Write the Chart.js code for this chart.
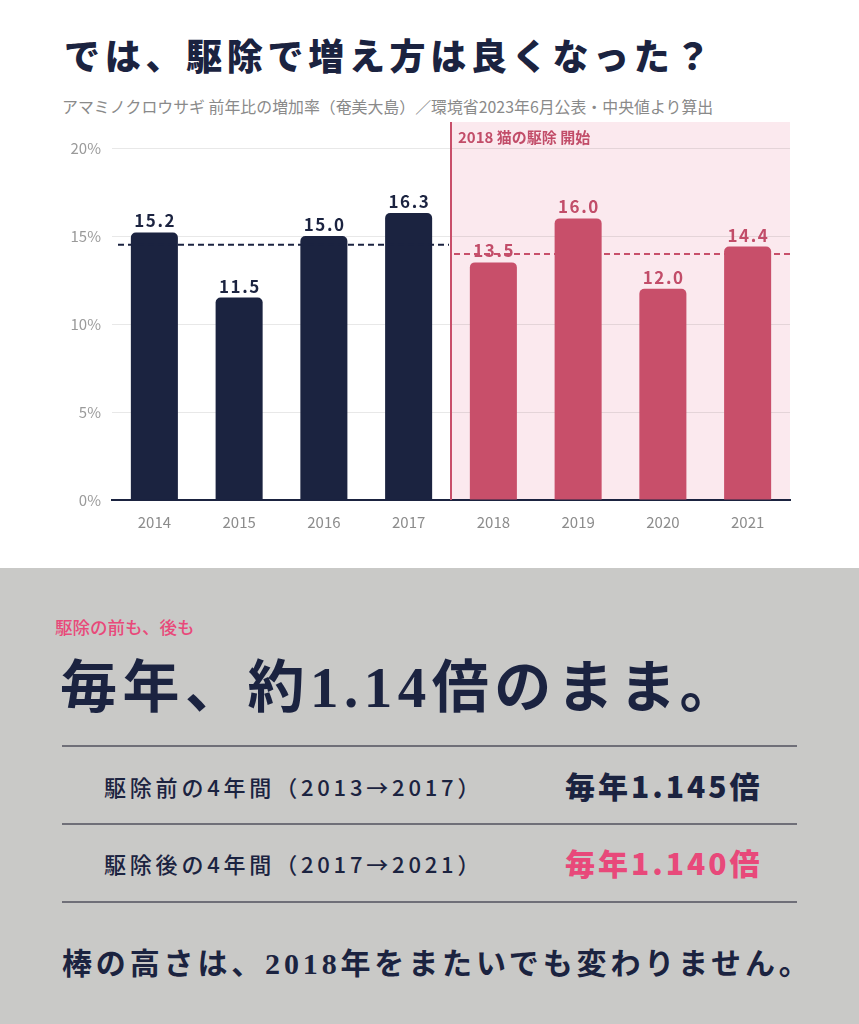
<!DOCTYPE html>
<html lang="ja">
<head>
<meta charset="utf-8">
<script src="https://cdn.jsdelivr.net/npm/chart.js@4.4.1/dist/chart.umd.min.js"></script>
<style>
  html, body { margin: 0; padding: 0; }
  body { width: 859px; height: 1024px; position: relative; overflow: hidden; background: #ffffff;
         font-family: "Noto Sans CJK JP", "Noto Sans", sans-serif; color: #1b2340; }
  .abs { position: absolute; white-space: nowrap; }
  #title { left: 64px; top: 30px; font-size: 36px; font-weight: 900; letter-spacing: 4.7px; line-height: 48px; }
  #subtitle { left: 62px; top: 96px; font-size: 15.9px; color: #8a8a8a; line-height: 22px; }
  #chartWrap { position: absolute; left: 0; top: 110px; width: 859px; height: 440px; }
  #gray { position: absolute; left: 0; top: 568px; width: 859px; height: 456px; background: #c9c9c7; }
  #kicker { left: 55px; top: 613px; font-size: 17.5px; font-weight: 500; color: #e8497a; line-height: 28px; }
  #big { left: 60px; top: 650px; font-size: 57px; font-weight: 700; line-height: 76px; letter-spacing: 5.5px;
         font-family: "Liberation Serif", "DejaVu Serif", "Noto Sans CJK JP", serif; }
  .rule { position: absolute; left: 62px; width: 735px; height: 2px; background: #6f6f78; }
  .rowlabel { left: 104px; font-size: 22px; font-weight: 500; letter-spacing: 3.8px; line-height: 30px; }
  .rowval { left: 565px; font-size: 30px; font-weight: 900; letter-spacing: 3px; line-height: 38px; }
  #closing { left: 62px; top: 943px; font-size: 30px; font-weight: 700; letter-spacing: 3.85px; line-height: 42px;
             font-family: "Liberation Serif", "DejaVu Serif", "Noto Sans CJK JP", serif; }
</style>
</head>
<body>
<div id="title" class="abs">では、駆除で増え方は良くなった？</div>
<div id="subtitle" class="abs">アマミノクロウサギ 前年比の増加率（奄美大島）／環境省2023年6月公表・中央値より算出</div>
<div id="chartWrap"><canvas id="chart" width="859" height="440"></canvas></div>

<div id="gray"></div>
<div id="kicker" class="abs">駆除の前も、後も</div>
<div id="big" class="abs">毎年、約1.14倍のまま。</div>
<div class="rule" style="top:745px"></div>
<div class="abs rowlabel" style="top:771px">駆除前の4年間（2013→2017）</div>
<div class="abs rowval" style="top:766px; color:#1b2340">毎年1.145倍</div>
<div class="rule" style="top:823px"></div>
<div class="abs rowlabel" style="top:848px">駆除後の4年間（2017→2021）</div>
<div class="abs rowval" style="top:843px; color:#e8497a">毎年1.140倍</div>
<div class="rule" style="top:901px"></div>
<div id="closing" class="abs">棒の高さは、2018年をまたいでも変わりません。</div>

<script>
// ---- data ----
const years = ['2014', '2015', '2016', '2017', '2018', '2019', '2020', '2021'];
const preValues = [15.2, 11.5, 15.0, 16.3, null, null, null, null];
const postValues = [null, null, null, null, 13.5, 16.0, 12.0, 14.4];
const yTickValues = [0, 5, 10, 15, 20];
const annotationText = '2018 猫の駆除 開始';

// ---- styles ----
const NAVY = '#1b2340';
const PINK = '#c84f6a';
const PINK_TEXT = '#c24d69';
const SHADE = '#fbe9ee';

Chart.defaults.font.family = '"Noto Sans CJK JP", "Noto Sans", sans-serif';

function mean(arr) {
  const v = arr.filter(x => x !== null);
  return v.reduce((a, b) => a + b, 0) / v.length;
}

function dividerX(chart) {
  const xs = chart.scales.x;
  return (xs.getPixelForValue(3) + xs.getPixelForValue(4)) / 2;
}

const shadePlugin = {
  id: 'shade',
  beforeDraw(chart) {
    const { ctx, chartArea } = chart;
    const dx = dividerX(chart);
    ctx.save();
    ctx.fillStyle = SHADE;
    ctx.fillRect(dx, chartArea.top - 26, chartArea.right - dx, chartArea.bottom - chartArea.top + 26);
    ctx.restore();
  },
  afterDatasetsDraw(chart) {
    const { ctx, chartArea } = chart;
    const dx = dividerX(chart);
    ctx.save();
    ctx.strokeStyle = PINK;
    ctx.lineWidth = 2;
    ctx.beginPath();
    ctx.moveTo(dx, chartArea.top - 26);
    ctx.lineTo(dx, chartArea.bottom);
    ctx.stroke();
    ctx.fillStyle = PINK_TEXT;
    ctx.font = 'bold 15px "Noto Sans CJK JP", sans-serif';
    ctx.textBaseline = 'middle';
    ctx.textAlign = 'left';
    ctx.fillText(annotationText, dx + 7, chartArea.top - 11);
    ctx.restore();
  }
};

const labelPlugin = {
  id: 'valueLabels',
  afterDatasetsDraw(chart) {
    const { ctx } = chart;
    ctx.save();
    ctx.font = 'bold 17px "Noto Sans CJK JP", sans-serif';
    if ('letterSpacing' in ctx) ctx.letterSpacing = '1.5px';
    ctx.textAlign = 'center';
    ctx.textBaseline = 'alphabetic';
    chart.data.datasets.forEach((ds, di) => {
      const meta = chart.getDatasetMeta(di);
      meta.data.forEach((el, i) => {
        const v = ds.data[i];
        if (v === null) return;
        ctx.fillStyle = di === 0 ? NAVY : PINK_TEXT;
        ctx.fillText(v.toFixed(1), el.x + 0.75, el.y - 5);
      });
    });
    ctx.restore();
  }
};

const meanPlugin = {
  id: 'meanLines',
  afterDraw(chart) {
    const { ctx, chartArea, scales } = chart;
    const dx = dividerX(chart);
    const preMean = mean(preValues);
    const postMean = mean(postValues);
    ctx.save();
    ctx.lineWidth = 2;
    ctx.setLineDash([6, 4]);
    ctx.strokeStyle = NAVY;
    let y = scales.y.getPixelForValue(preMean);
    ctx.beginPath();
    ctx.moveTo(chartArea.left + 6, y);
    ctx.lineTo(dx - 2, y);
    ctx.stroke();
    ctx.strokeStyle = PINK;
    y = scales.y.getPixelForValue(postMean);
    ctx.beginPath();
    ctx.moveTo(dx + 3, y);
    ctx.lineTo(chartArea.right, y);
    ctx.stroke();
    ctx.restore();
  }
};

new Chart(document.getElementById('chart'), {
  type: 'bar',
  data: {
    labels: years,
    datasets: [
      { data: preValues, backgroundColor: NAVY, borderRadius: { topLeft: 5, topRight: 5 }, borderSkipped: 'bottom' },
      { data: postValues, backgroundColor: PINK, borderRadius: { topLeft: 5, topRight: 5 }, borderSkipped: 'bottom' }
    ]
  },
  options: {
    responsive: false,
    animation: false,
    devicePixelRatio: 1,
    grouped: false,
    categoryPercentage: 1.0,
    barPercentage: 0.555,
    layout: { padding: { top: 38, right: 69, left: 0, bottom: 0 } },
    plugins: { legend: { display: false }, tooltip: { enabled: false } },
    scales: {
      x: {
        grid: { display: false, drawTicks: false },
        border: { display: true, color: NAVY, width: 2 },
        ticks: { color: '#8c8c8c', font: { size: 15 }, padding: 13 },
        afterFit(scale) { scale.height = 50; }
      },
      y: {
        min: 0, max: 20,
        afterBuildTicks(scale) { scale.ticks = yTickValues.map(v => ({ value: v })); },
        grid: {
          drawTicks: false,
          color: (c) => (c.tick && c.tick.value === 0) ? 'rgba(0,0,0,0)' : 'rgba(0,0,0,0.09)',
          lineWidth: 1
        },
        border: { display: false },
        ticks: { color: '#9a9a9a', font: { size: 15 }, padding: 11, callback: (v) => v + '%' },
        afterFit(scale) { scale.width = 112; }
      }
    }
  },
  plugins: [shadePlugin, labelPlugin, meanPlugin]
});
</script>
</body>
</html>
